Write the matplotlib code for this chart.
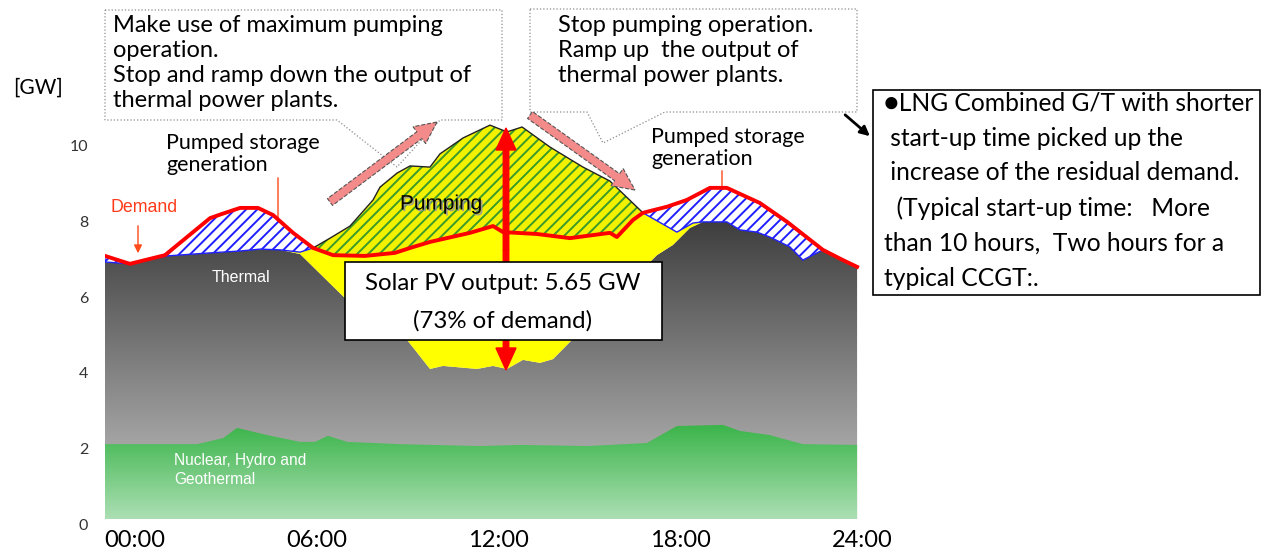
import matplotlib
matplotlib.use('Agg')
import matplotlib.pyplot as plt
import matplotlib.patheffects as pe
import matplotlib.transforms as mtransforms
import numpy as np
from matplotlib.colors import LinearSegmentedColormap
from matplotlib.patches import Polygon, Rectangle, FancyArrow

plt.rcParams['font.family'] = ['Lato', 'DejaVu Sans']
plt.rcParams['hatch.linewidth'] = 1.4

# ------------ DATA (hour of day, GW)
demand_h = [-0.99, -0.17, 0.99, 2.48, 2.87, 3.47, 4.06, 4.56, 5.22, 5.88, 6.54, 7.59,
            8.58, 9.08, 9.74, 11.06, 11.82, 12.15, 13.27, 14.36, 15.68, 15.91, 16.44,
            16.77, 17.56, 18.22, 18.98, 19.54, 20.63, 21.53, 22.71, 23.37, 23.84]
demand_gw = [6.96, 6.75, 6.98, 7.96, 8.07, 8.23, 8.23, 8.04, 7.57, 7.17, 6.98, 6.96,
             7.04, 7.17, 7.33, 7.57, 7.75, 7.59, 7.54, 7.43, 7.57, 7.46, 7.91,
             8.10, 8.26, 8.44, 8.76, 8.76, 8.36, 7.86, 7.12, 6.85, 6.67]

pumping_h = [5.88, 6.44, 7.10, 7.86, 8.09, 8.65, 9.08, 9.74, 10.07, 10.83, 11.72,
             12.28, 12.78, 13.70, 14.79, 15.68, 16.77]
pumping_gw = [7.17, 7.43, 7.75, 8.44, 8.78, 9.15, 9.34, 9.31, 9.66, 10.08, 10.42,
              10.24, 10.37, 9.84, 9.31, 8.94, 8.10]

thermal_h = [-0.99, -0.17, 1.06, 2.48, 3.47, 4.13, 4.79, 5.45, 7.00, 8.98, 9.74, 10.17,
             11.29, 11.82, 12.28, 12.81, 13.37, 13.80, 14.59, 15.91, 17.23, 17.76,
             18.32, 18.75, 19.54, 19.97, 20.53, 20.96, 21.62, 22.05, 22.71, 23.37, 23.84]
thermal_gw = [6.80, 6.75, 6.96, 7.04, 7.09, 7.14, 7.12, 7.01, 5.79, 4.74, 3.97, 4.05,
              3.97, 4.05, 3.97, 4.21, 4.13, 4.23, 4.87, 5.93, 6.98, 7.25,
              7.70, 7.86, 7.86, 7.65, 7.59, 7.46, 7.20, 6.85, 7.12, 6.85, 6.67]

# bottom edge of the pumped storage generation (morning and evening)
psg_am_h = [-0.99, -0.17, 1.06, 2.48, 3.47, 4.13, 4.79, 5.45, 5.88]
psg_am_gw = [6.80, 6.75, 6.96, 7.04, 7.09, 7.14, 7.12, 7.06, 7.17]
psg_pm_h = [16.77, 17.89, 18.42, 18.75, 19.54, 19.97, 20.53, 20.96, 21.62, 22.05, 22.71]
psg_pm_gw = [8.10, 7.59, 7.83, 7.86, 7.86, 7.65, 7.59, 7.46, 7.20, 6.85, 7.12]

nuclear_h = [-0.99, 2.05, 2.91, 3.37, 4.36, 5.45, 5.94, 6.37, 7.00, 8.75, 11.39, 12.71,
             14.92, 16.90, 17.89, 19.41, 19.97, 20.96, 22.05, 23.84]
nuclear_gw = [1.98, 1.98, 2.14, 2.41, 2.22, 2.04, 2.04, 2.20, 2.04, 1.98, 1.93, 1.96,
              1.93, 2.01, 2.46, 2.49, 2.33, 2.22, 1.98, 1.96]

hour_ticks = [0, 6, 12, 18, 24]
hour_labels = ['00:00', '06:00', '12:00', '18:00', '24:00']
gw_ticks = [0, 2, 4, 6, 8, 10]

W, H = 1263, 550
fig = plt.figure(figsize=(12.63, 5.5), dpi=100)
ax = fig.add_axes([105 / W, (H - 519) / H, (868 - 105) / W, (519 - 46.5) / H])


def pts(px, py):
    # picture pixel -> inches from bottom-left
    return px / 100.0, (H - py) / 100.0


def ftext(px, py, s, **kw):
    return fig.text(px / W, 1 - py / H, s, **kw)


def band(xa, ya, xb, yb):
    return np.column_stack([np.r_[xa, xb[::-1]], np.r_[ya, yb[::-1]]])


dh, dg = np.array(demand_h), np.array(demand_gw)
th, tg = np.array(thermal_h), np.array(thermal_gw)
nh, ng = np.array(nuclear_h), np.array(nuclear_gw)
ph, pg_ = np.array(pumping_h), np.array(pumping_gw)

# thermal: grey gradient
grad = np.linspace(0, 1, 256).reshape(-1, 1)
gray_cmap = LinearSegmentedColormap.from_list('gr', ['#c6c6c6', '#2e2e2e'])
im = ax.imshow(grad, cmap=gray_cmap, origin='lower', aspect='auto',
               extent=[th[0], th[-1], 0, 8.8], zorder=1)
clip = Polygon(band(th, tg, th[[0, -1]], np.zeros(2)), closed=True,
               facecolor='none', edgecolor='none')
ax.add_patch(clip)
im.set_clip_path(clip)

# nuclear, hydro and geothermal: green gradient
green_cmap = LinearSegmentedColormap.from_list('gn', ['#acdfb4', '#3ab449'])
im2 = ax.imshow(grad, cmap=green_cmap, origin='lower', aspect='auto',
                extent=[nh[0], nh[-1], 0, 2.5], zorder=2)
clip2 = Polygon(band(nh, ng, nh[[0, -1]], np.zeros(2)), closed=True,
                facecolor='none', edgecolor='none')
ax.add_patch(clip2)
im2.set_clip_path(clip2)

# solar PV
ax.add_patch(Polygon(band(th, tg, dh, dg), closed=True, facecolor='#ffff00',
                     edgecolor='none', zorder=3))

# pumped storage generation
for sh, sg in [(psg_am_h, psg_am_gw), (psg_pm_h, psg_pm_gw)]:
    sh = np.array(sh)
    m = (dh >= sh[0]) & (dh <= sh[-1])
    ax.add_patch(Polygon(band(sh, np.array(sg), dh[m], dg[m]), closed=True,
                         facecolor='white', edgecolor='#1f1fff', hatch='///',
                         linewidth=1.0, zorder=4))

# pumping
m = (dh >= ph[0]) & (dh <= ph[-1])
ax.add_patch(Polygon(band(ph, pg_, dh[m], dg[m]), closed=True, facecolor='#f2f200',
                     edgecolor='#3a9a2a', hatch='///', linewidth=0, zorder=4))
ax.plot(ph, pg_, color='#222222', lw=1.0, zorder=5)
ax.plot(dh, dg, color='#ff0000', lw=2.8, zorder=6, solid_joinstyle='round')

ax.set_xlim(-0.99, 24.2)
ax.set_ylim(0, 12.5)
ax.set_xticks(hour_ticks, hour_labels, fontsize=17)
ax.set_yticks(gw_ticks)
ax.tick_params(axis='both', length=0)
ax.tick_params(axis='y', labelsize=11.5, pad=12, labelcolor='#333333')
ax.tick_params(axis='x', pad=8)
for s in ax.spines.values():
    s.set_visible(False)
off = mtransforms.ScaledTranslation(0, -5 / 100, fig.dpi_scale_trans)
for lab in ax.get_yticklabels():
    lab.set_transform(lab.get_transform() + off)

ftext(13, 88, '[GW]', fontsize=15, va='center')

# ------------ ANNOTATIONS
tr = fig.dpi_scale_trans
# big red double arrow (solar output)
for y_end in (128, 370):
    x0, y0 = pts(506, 250)
    x1, y1 = pts(506, y_end)
    fig.add_artist(FancyArrow(x0, y0, 0, y1 - y0, width=0.055, head_width=0.2,
                              head_length=0.22, length_includes_head=True,
                              color='#ff0000', transform=tr, zorder=0.5))

# callout boxes
call1 = [(105, 10), (502, 10), (502, 120), (440, 120), (397, 167), (337, 120), (105, 120)]
call2 = [(530, 9), (857, 9), (857, 112), (665, 112), (603, 143), (587, 112), (530, 112)]
for c in (call1, call2):
    fig.add_artist(Polygon([pts(*p) for p in c], closed=True, facecolor='white',
                           edgecolor='#8c8c8c', linestyle=':', linewidth=0.9,
                           transform=tr, zorder=1))

# pink ramp arrows
for (ax0, ay0), (ax1, ay1) in [((330, 202), (437, 122)), ((530, 115), (635, 190))]:
    x0, y0 = pts(ax0, ay0)
    x1, y1 = pts(ax1, ay1)
    fig.add_artist(FancyArrow(x0, y0, x1 - x0, y1 - y0, width=0.085, head_width=0.21,
                              head_length=0.22, length_includes_head=True,
                              facecolor='#f48b8b', edgecolor='#555555', linestyle='--',
                              linewidth=0.8, transform=tr, zorder=1.5))

for i, s in enumerate(['Make use of maximum pumping', 'operation.',
                       'Stop and ramp down the output of', 'thermal power plants.']):
    ftext(113, 25 + 25.3 * i, s, fontsize=17, va='center')
for i, s in enumerate(['Stop pumping operation.', 'Ramp up  the output of',
                       'thermal power plants.']):
    ftext(558, 25 + 25.3 * i, s, fontsize=17, va='center')

# solar box
x0, y0 = pts(345, 340)
fig.add_artist(Rectangle((x0, y0), 3.17, 0.78, facecolor='white', edgecolor='black',
                         linewidth=1.2, transform=tr, zorder=1))
ftext(503, 283, 'Solar PV output: 5.65 GW', fontsize=17.3, ha='center', va='center')
ftext(503, 321, '(73% of demand)', fontsize=17.3, ha='center', va='center')

# right note box
x0, y0 = pts(873, 295)
fig.add_artist(Rectangle((x0, y0), 3.87, 2.05, facecolor='white', edgecolor='black',
                         linewidth=1.2, transform=tr, zorder=1))
note = ['\u25cfLNG Combined G/T with shorter', ' start-up time picked up the',
        ' increase of the residual demand.', '  (Typical start-up time:   More',
        'than 10 hours,  Two hours for a', 'typical CCGT:.']
for i, s in enumerate(note):
    ftext(884, 103 + 35 * i, s, fontsize=17.7, va='center')
ax.annotate('', xy=(872, H - 138), xycoords='figure pixels', xytext=(843, H - 113),
            textcoords='figure pixels',
            arrowprops=dict(arrowstyle='-|>', color='black', lw=2, mutation_scale=14))

# labels in the chart
ftext(166, 143, 'Pumped storage', fontsize=15.5, va='center')
ftext(166, 165, 'generation', fontsize=15.5, va='center')
ftext(651, 137, 'Pumped storage', fontsize=15.5, va='center')
ftext(651, 159, 'generation', fontsize=15.5, va='center')
for xa, ya0, ya1 in [(278, 175, 237), (722, 168, 205)]:
    ax.annotate('', xy=(xa, H - ya1), xycoords='figure pixels', xytext=(xa, H - ya0),
                textcoords='figure pixels',
                arrowprops=dict(arrowstyle='-|>', color='#ff4a1a', lw=1.0,
                                mutation_scale=12))
ftext(110, 208, 'Demand', fontsize=12.8, color='#ff3a1a', va='center',
      family='Liberation Sans')
ax.annotate('', xy=(138, H - 256), xycoords='figure pixels', xytext=(138, H - 223),
            textcoords='figure pixels',
            arrowprops=dict(arrowstyle='-|>', color='#ff4a1a', lw=1.0, mutation_scale=12))
ftext(212, 277, 'Thermal', fontsize=11.5, color='white', va='center',
      family='Liberation Sans')
ftext(400, 204, 'Pumping', fontsize=15, color='black', va='center',
      family='Liberation Sans',
      path_effects=[pe.SimplePatchShadow(offset=(1.2, -1.2), shadow_rgbFace='#999999',
                                         alpha=0.9), pe.Normal()])
ftext(174, 461, 'Nuclear, Hydro and', fontsize=11.2, color='white', va='center',
      family='Liberation Sans')
ftext(174, 480, 'Geothermal', fontsize=11.2, color='white', va='center',
      family='Liberation Sans')

fig.savefig('out.png', dpi=100)
